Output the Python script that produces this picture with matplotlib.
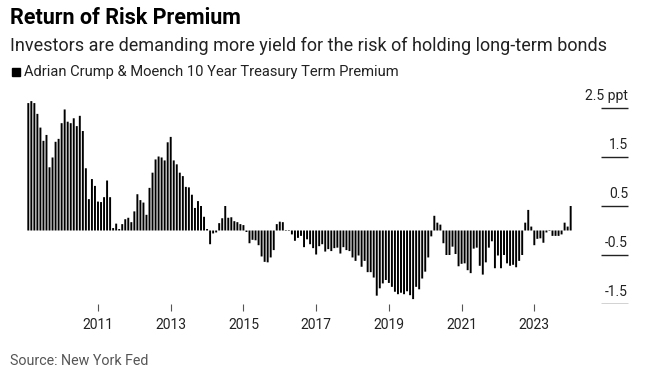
import numpy as np
import matplotlib
matplotlib.use("Agg")
import matplotlib.pyplot as plt
from matplotlib import font_manager as fm

# ACM 10 year term premium, monthly, Jan 2009 - Dec 2023 (ppt)
premium = [
    2.60, 2.64, 2.60, 2.38, 2.10, 1.83, 1.95, 1.29, 1.49, 1.81, 1.87, 2.19,
    2.47, 2.22, 2.19, 2.29, 2.13, 2.34, 2.03, 1.27, 0.64, 1.05, 0.91, 0.59,
    0.58, 0.68, 1.02, 0.68, 0.05, 0.14, 0.03, 0.13, 0.23, 0.26, 0.17, 0.39,
    0.74, 0.62, 0.57, 0.32, 0.87, 1.18, 1.45, 1.51, 1.49, 1.43, 1.80, 1.91,
    1.43, 1.35, 1.18, 1.11, 0.89, 0.88, 0.73, 0.46, 0.60, 0.50, 0.28, 0.03,
    -0.28, -0.06, -0.04, 0.15, 0.25, 0.50, 0.26, 0.27, 0.19, 0.17, 0.13, 0.11,
    -0.03, -0.26, -0.19, -0.20, -0.30, -0.53, -0.64, -0.65, -0.55, -0.40, 0.13, 0.18,
    0.17, 0.01, -0.01, -0.08, -0.21, -0.15, -0.11, -0.34, -0.18, -0.28, -0.36, -0.49,
    -0.32, -0.28, -0.43, -0.38, -0.42, -0.36, -0.35, -0.47, -0.34, -0.40, -0.42, -0.55,
    -0.62, -0.51, -0.74, -0.62, -0.85, -0.85, -0.96, -1.33, -1.18, -1.08, -1.01, -1.07,
    -1.15, -1.25, -1.30, -1.27, -1.30, -1.24, -1.32, -1.40, -1.15, -1.20, -0.98, -0.84,
    -0.55, -0.12, 0.30, 0.16, 0.12, -0.26, -0.50, -0.50, -0.33, -0.48, -0.73, -0.68,
    -0.67, -0.81, -0.87, -0.37, -0.35, -0.72, -0.90, -0.65, -0.35, -0.22, -0.77, -0.51,
    -0.77, -0.50, -0.67, -0.72, -0.70, -0.75, -0.62, -0.50, 0.16, 0.42, 0.08, -0.30,
    -0.17, -0.16, -0.25, -0.04, -0.01, -0.11, -0.11, -0.11, -0.08, 0.16, 0.08, 0.50,
]
years = [2011, 2013, 2015, 2017, 2019, 2021, 2023]
ylevels = [2.5, 1.5, 0.5, -0.5, -1.5]
ylabels = ["2.5 ppt", "1.5", "0.5", "-0.5", "-1.5"]


def pick_font(names):
    for n in names:
        try:
            fm.findfont(n, fallback_to_default=False)
            return n
        except Exception:
            pass
    return "DejaVu Sans"


font = pick_font(["Liberation Sans Narrow", "Roboto", "Liberation Sans"])
plt.rcParams["font.family"] = [font, "DejaVu Sans"]

W, H = 659, 369
fig = plt.figure(figsize=(W / 100, H / 100), dpi=100)

# axes placed in pixel terms
left, right, top, bottom = 20, 630, 95, 304
ax = fig.add_axes([left / W, 1 - bottom / H, (right - left) / W, (bottom - top) / H])

x = np.arange(len(premium))
bars = ax.bar(x, premium, width=0.64, color="black", linewidth=0)
for b in bars:
    b.set_snap(False)

# 3.03 px per month, first bar at px 28.3
ppm = 3.03
ax.set_xlim((left - 28.3) / ppm, (right - 28.3) / ppm)
ax.set_ylim(-1.5, 2.765)

for s in ax.spines.values():
    s.set_visible(False)
ax.set_yticks([])

tick_pos = [(y - 2009) * 12 - 1 for y in years]
ax.set_xticks(tick_pos)
ax.set_xticklabels([str(y) for y in years], fontsize=10, color="#222222")
ax.tick_params(axis="x", length=5, width=0.8, color="#555555", pad=5)

# short right side gridlines with labels above them
gx0 = (601 - 28.3) / ppm
gx1 = (628 - 28.3) / ppm
ax.hlines(ylevels, gx0, gx1, color="#222222", linewidth=1)
for v, lab in zip(ylevels, ylabels):
    ax.text(gx1, v + 0.25, lab, ha="right", va="center", fontsize=10, color="#222222")

fig.text(10 / W, 1 - 18 / H, "Return of Risk Premium", fontsize=15.5,
         fontweight="bold", ha="left", va="center")
fig.text(10 / W, 1 - 46 / H,
         "Investors are demanding more yield for the risk of holding long-term bonds",
         fontsize=13, ha="left", va="center", color="#222222")
fig.patches.append(plt.Rectangle((12 / W, 1 - 76 / H), 8 / W, 8 / H,
                                 transform=fig.transFigure, color="black"))
fig.text(24 / W, 1 - 72 / H, "Adrian Crump & Moench 10 Year Treasury Term Premium",
         fontsize=10.6, ha="left", va="center", color="#222222")
fig.text(10 / W, 1 - 361 / H, "Source: New York Fed", fontsize=10.3,
         ha="left", va="center", color="#555555")

fig.savefig("out.png", dpi=100)
